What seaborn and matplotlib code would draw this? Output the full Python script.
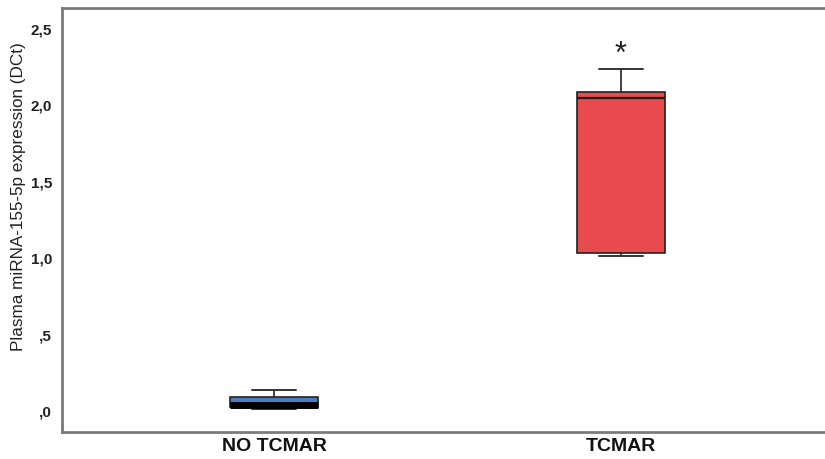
import numpy as np
import pandas as pd
import matplotlib
matplotlib.use("Agg")
import matplotlib.pyplot as plt
import seaborn as sns

# Data (five-number summaries per group)
categories = ["NO TCMAR", "TCMAR"]
no_tcmar_values = [0.013, 0.026, 0.04, 0.09, 0.137]
tcmar_values = [1.013, 1.033, 2.046, 2.085, 2.235]
y_ticks = [0.0, 0.5, 1.0, 1.5, 2.0, 2.5]
y_tick_labels = [",0", ",5", "1,0", "1,5", "2,0", "2,5"]
box_colors = ["#4A7CC0", "#E84B4E"]
significance_mark = "*"
significance_y = 2.33

df = pd.DataFrame({
    "group": [categories[0]] * len(no_tcmar_values) + [categories[1]] * len(tcmar_values),
    "value": no_tcmar_values + tcmar_values,
})

sns.set_style("white")
plt.rcParams["font.family"] = ["Liberation Sans", "DejaVu Sans"]

fig = plt.figure(figsize=(8.25, 4.59), dpi=100)
ax = fig.add_axes([62 / 825, 27 / 459, 1 - 62 / 825, (432 - 8) / 459])

sns.boxplot(
    data=df, x="group", y="value", hue="group", order=categories,
    hue_order=categories, palette=box_colors, legend=False,
    width=0.254, whis=(0, 100), linewidth=1.2, linecolor="#222222",
    medianprops=dict(color="#1a1a1a", linewidth=1.6),
    showcaps=True, ax=ax, saturation=1,
)

# thicker median for the compressed NO TCMAR box (as rendered in the reference)
for ln in ax.lines:
    yd = np.asarray(ln.get_ydata(), dtype=float)
    if len(yd) == 2 and np.allclose(yd[0], yd[1]) and abs(yd[0] - no_tcmar_values[2]) < 1e-9:
        ln.set_linewidth(5)
        ln.set_color("black")
# shorter caps like SPSS (half box width)
for ln in ax.lines:
    xd = np.asarray(ln.get_xdata(), dtype=float)
    yd = np.asarray(ln.get_ydata(), dtype=float)
    if len(yd) == 2 and np.allclose(yd[0], yd[1]):
        val = yd[0]
        is_cap = any(abs(val - v[0]) < 1e-9 or abs(val - v[4]) < 1e-9
                     for v in (no_tcmar_values, tcmar_values))
        if is_cap:
            c = xd.mean()
            ln.set_xdata([c - 0.064, c + 0.064])
            ln.set_color("#333333")
            ln.set_linewidth(1.4)

ax.text(1, significance_y, significance_mark, ha="center", va="center",
        fontsize=22, color="#222222")

ax.set_xlim(-0.611, 1.588)
ax.set_ylim(-0.137, 2.634)
ax.set_yticks(y_ticks)
ax.set_yticklabels(y_tick_labels, fontsize=11, fontweight="bold", color="#222222")
ax.set_xticks([0, 1])
ax.set_xticklabels(categories, fontsize=14, fontweight="bold", color="#111111")
ax.tick_params(axis="y", length=0, pad=7)
ax.tick_params(axis="x", length=0, pad=4)
ax.set_xlabel("")
ax.set_ylabel("Plasma miRNA-155-5p expression (DCt)", fontsize=12.3, color="#222222")
ax.yaxis.set_label_coords(-0.0475, 0.554)

for side in ["left", "top", "bottom"]:
    ax.spines[side].set_visible(True)
    ax.spines[side].set_color("#7a7a7a")
    ax.spines[side].set_linewidth(2)
ax.spines["right"].set_visible(False)

fig.savefig("out.png", dpi=100)
